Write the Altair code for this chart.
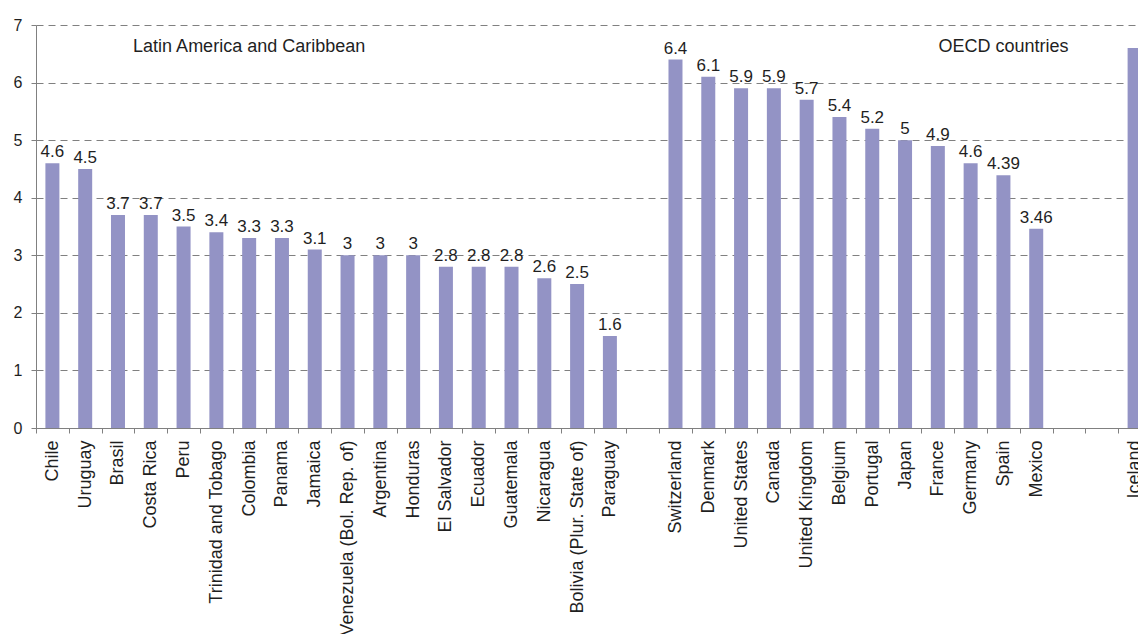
import altair as alt
import pandas as pd

# Latin America and Caribbean
lac_countries = ["Chile", "Uruguay", "Brasil", "Costa Rica", "Peru", "Trinidad and Tobago",
                 "Colombia", "Panama", "Jamaica", "Venezuela (Bol. Rep. of)", "Argentina",
                 "Honduras", "El Salvador", "Ecuador", "Guatemala", "Nicaragua",
                 "Bolivia (Plur. State of)", "Paraguay"]
lac_values = [4.6, 4.5, 3.7, 3.7, 3.5, 3.4, 3.3, 3.3, 3.1, 3, 3, 3, 2.8, 2.8, 2.8, 2.6, 2.5, 1.6]

# OECD countries
oecd_countries = ["Switzerland", "Denmark", "United States", "Canada", "United Kingdom",
                  "Belgium", "Portugal", "Japan", "France", "Germany", "Spain", "Mexico"]
oecd_values = [6.4, 6.1, 5.9, 5.9, 5.7, 5.4, 5.2, 5, 4.9, 4.6, 4.39, 3.46]

extra_countries = ["Iceland"]
extra_values = [6.6]

# empty slots separating the groups on the category axis
axis_order = lac_countries + [" "] + oecd_countries + ["  ", "   "] + extra_countries

group_labels = ["Latin America and Caribbean", "OECD countries"]
group_anchor = ["Colombia", "Spain"]
group_y = [6.62, 6.62]

bars = pd.DataFrame({
    "country": lac_countries + oecd_countries + extra_countries,
    "value": lac_values + oecd_values + extra_values,
})
bars["label"] = [f"{v:g}" for v in bars["value"]]
bars["show"] = [c not in extra_countries for c in bars["country"]]

groups = pd.DataFrame({"country": group_anchor, "value": group_y, "text": group_labels})

FONT = "Liberation Sans"
BAR = "#9393C5"
INK = "#1f1f1f"
AXIS = "#808080"

x_scale = alt.Scale(domain=axis_order, range=[0, 1115], paddingInner=0, paddingOuter=0)
y_scale = alt.Scale(domain=[0, 7], nice=False)

x_enc = alt.X("country:N", scale=x_scale, sort=axis_order, title=None,
              axis=alt.Axis(labelAngle=-90, labelAlign="right", labelBaseline="middle",
                            labelPadding=7, labelFontSize=18, labelFont=FONT, labelColor=INK,
                            labelLimit=400, tickBand="extent", tickSize=5, tickColor=AXIS,
                            domainColor=AXIS, grid=False, labelOverlap=False))
y_enc = alt.Y("value:Q", scale=y_scale, title=None,
              axis=alt.Axis(values=list(range(8)), format="d", tickSize=5, tickColor=AXIS,
                            domainColor=AXIS, labelFontSize=16, labelFont=FONT,
                            labelColor=INK, labelPadding=9, grid=True, gridColor=AXIS,
                            gridDash=[7, 5], gridWidth=1))

base = alt.Chart(bars)

bar_layer = base.mark_bar(width=14, color=BAR).encode(x=x_enc, y=y_enc)

value_text = base.transform_filter("datum.show").mark_text(
    baseline="bottom", dy=-2, fontSize=17, font=FONT, color=INK
).encode(x=alt.X("country:N", scale=x_scale, sort=axis_order),
         y=alt.Y("value:Q", scale=y_scale), text="label:N")

group_text = alt.Chart(groups).mark_text(
    baseline="middle", fontSize=18, font=FONT, color=INK
).encode(x=alt.X("country:N", scale=x_scale, sort=axis_order),
         y=alt.Y("value:Q", scale=y_scale), text="text:N")

chart = alt.layer(bar_layer, value_text, group_text).properties(
    width=1102, height=403,
    autosize=alt.AutoSizeParams(type="none"),
    padding={"left": 36, "top": 25, "right": 0, "bottom": 206},
    background="white",
).configure_view(stroke=None)

chart.save("out.html", embed_options={"renderer": "svg", "actions": False})
